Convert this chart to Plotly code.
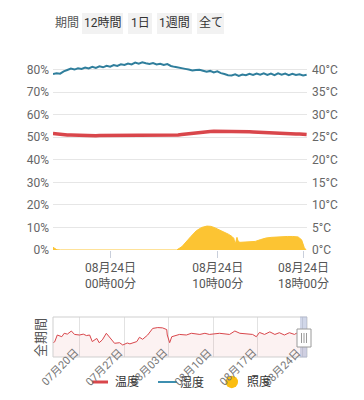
import pandas as pd
import plotly.graph_objects as go

W, H = 364, 400

# ---------------- data ----------------
main_times = pd.date_range("2024-08-23 18:38", periods=72, freq="20min")
humidity = [78.0, 78.4, 78.2, 79.2, 79.8, 80.4, 80.0, 80.6, 80.3, 80.9, 80.5, 81.2,
            80.7, 81.4, 81.0, 81.7, 81.3, 82.0, 81.6, 82.3, 82.0, 82.7, 82.3, 83.1,
            82.6, 83.2, 82.8, 82.5, 82.9, 82.3, 82.6, 82.0, 82.4, 81.6, 81.2, 80.8,
            80.4, 80.3, 80.0, 79.6, 79.8, 79.9, 79.5, 79.0, 79.4, 78.7, 79.2, 78.4,
            78.0, 77.5, 77.4, 77.9, 77.2, 77.8, 77.5, 78.1, 77.6, 78.2, 77.7, 78.3,
            77.6, 78.2, 77.5, 78.3, 77.7, 78.2, 77.5, 78.1, 77.6, 77.9, 77.4, 77.7]
temperature = [25.8, 25.7, 25.6, 25.55, 25.5, 25.5, 25.45, 25.45, 25.4, 25.45, 25.4, 25.4,
               25.35, 25.4, 25.4, 25.35, 25.4, 25.4, 25.35, 25.4, 25.45, 25.4, 25.4, 25.45,
               25.4, 25.4, 25.35, 25.4, 25.4, 25.45, 25.4, 25.4, 25.45, 25.4, 25.45, 25.5,
               25.6, 25.7, 25.8, 25.9, 26.0, 26.1, 26.15, 26.2, 26.25, 26.3, 26.3, 26.3,
               26.3, 26.35, 26.3, 26.3, 26.25, 26.25, 26.2, 26.2, 26.15, 26.1, 26.05, 26.0,
               26.0, 25.95, 25.9, 25.9, 25.85, 25.8, 25.8, 25.75, 25.7, 25.7, 25.65, 25.6]

illum_times = ["2024-08-23 18:38", "2024-08-23 18:50", "2024-08-23 19:00", "2024-08-23 19:20",
               "2024-08-24 06:10", "2024-08-24 06:40", "2024-08-24 07:00", "2024-08-24 07:30",
               "2024-08-24 08:00", "2024-08-24 08:30", "2024-08-24 09:00", "2024-08-24 09:20",
               "2024-08-24 09:40", "2024-08-24 10:00", "2024-08-24 10:30", "2024-08-24 11:00",
               "2024-08-24 11:20", "2024-08-24 11:30", "2024-08-24 11:36", "2024-08-24 11:42",
               "2024-08-24 11:48", "2024-08-24 11:54", "2024-08-24 12:04", "2024-08-24 12:30",
               "2024-08-24 13:00", "2024-08-24 13:30", "2024-08-24 14:00", "2024-08-24 14:30",
               "2024-08-24 15:00", "2024-08-24 15:30", "2024-08-24 16:00", "2024-08-24 16:30",
               "2024-08-24 17:00", "2024-08-24 17:30", "2024-08-24 17:50", "2024-08-24 18:05",
               "2024-08-24 18:15"]
illuminance = [1.2, 0.5, 0.1, 0.0,
               0.0, 1.5, 3.5, 6.0,
               8.5, 10.0, 10.6, 10.5,
               10.0, 9.3, 8.3, 7.0,
               6.0, 5.2, 3.2, 3.8,
               5.6, 4.0, 3.4, 3.5,
               3.6, 3.8, 4.6, 5.3,
               5.6, 5.8, 5.9, 6.0,
               6.0, 5.8, 4.5, 1.0,
               0.0]

overview_times = ["2024-07-15 20:00", "2024-07-16 02:00", "2024-07-16 12:00", "2024-07-17 05:00",
                  "2024-07-17 14:00", "2024-07-18 02:00", "2024-07-18 17:00", "2024-07-19 05:00",
                  "2024-07-20 00:00", "2024-07-20 14:00", "2024-07-21 02:00", "2024-07-21 14:00",
                  "2024-07-22 00:00", "2024-07-22 17:00", "2024-07-23 02:00", "2024-07-23 14:00",
                  "2024-07-24 05:00", "2024-07-24 17:00", "2024-07-25 12:00", "2024-07-26 07:00",
                  "2024-07-26 19:00", "2024-07-27 12:00", "2024-07-27 22:00", "2024-07-29 00:00",
                  "2024-07-29 10:00", "2024-07-29 22:00", "2024-07-30 17:00", "2024-07-31 12:00",
                  "2024-08-01 07:00", "2024-08-02 01:00", "2024-08-02 17:00", "2024-08-02 19:00",
                  "2024-08-03 04:00", "2024-08-03 12:00", "2024-08-04 17:00", "2024-08-05 19:00",
                  "2024-08-06 14:00", "2024-08-07 22:00", "2024-08-08 17:00", "2024-08-09 10:00",
                  "2024-08-10 12:00", "2024-08-11 00:00", "2024-08-12 14:00", "2024-08-13 10:00",
                  "2024-08-14 05:00", "2024-08-15 12:00", "2024-08-16 05:00", "2024-08-16 19:00",
                  "2024-08-17 07:00", "2024-08-18 02:00", "2024-08-18 22:00", "2024-08-19 17:00",
                  "2024-08-20 10:00", "2024-08-21 05:00", "2024-08-22 00:00", "2024-08-22 19:00",
                  "2024-08-23 02:00", "2024-08-23 14:00", "2024-08-24 10:00", "2024-08-24 18:00"]
overview_temp = [23.0, 23.3, 25.7, 25.1, 26.3, 26.0, 27.1, 25.9,
                 25.7, 26.0, 25.5, 25.7, 23.4, 24.5, 23.0, 24.0,
                 26.3, 25.0, 22.8, 23.0, 22.2, 22.9, 22.6, 23.4,
                 24.9, 24.2, 25.7, 28.0, 28.3, 28.2, 27.6, 25.7,
                 23.0, 25.1, 25.9, 25.7, 26.3, 25.9, 26.3, 25.9,
                 26.2, 26.3, 25.9, 27.1, 26.3, 26.2, 25.9, 25.1,
                 26.6, 25.9, 26.8, 25.9, 26.5, 25.7, 26.5, 25.9,
                 26.3, 25.8, 26.1, 25.7]

main_tickvals = ["2024-08-24 00:00", "2024-08-24 10:00", "2024-08-24 18:00"]
main_ticktext = ["08月24日<br>00時00分", "08月24日<br>10時00分", "08月24日<br>18時00分"]
pct_ticks = [0, 10, 20, 30, 40, 50, 60, 70, 80, 90]
pct_labels = ["0%", "10%", "20%", "30%", "40%", "50%", "60%", "70%", "80%", ""]
deg_ticks = [0, 5, 10, 15, 20, 25, 30, 35, 40]
deg_labels = ["0°C", "5°C", "10°C", "15°C", "20°C", "25°C", "30°C", "35°C", "40°C"]
overview_tickvals = ["2024-07-20", "2024-07-27", "2024-08-03", "2024-08-10", "2024-08-17", "2024-08-24"]
overview_ticktext = ["07月20日", "07月27日", "08月03日", "08月10日", "08月17日", "08月24日"]
period_buttons = ["12時間", "1日", "1週間", "全て"]
legend_names = ["温度", "湿度", "照度"]

# ---------------- style ----------------
C_TEMP = "#d9464b"
C_HUM = "#2f7e9c"
C_ILL = "#fcc433"
FONT = "Roboto, 'Noto Sans CJK JP', sans-serif"
LABEL = "#666666"
GRID = "#e6e6e6"


def px(x):
    return x / W


def py(y):
    return 1 - y / H


fig = go.Figure()

fig.add_trace(go.Scatter(x=illum_times, y=illuminance, yaxis="y3", mode="lines",
                         line=dict(color=C_ILL, width=1), fill="tozeroy",
                         fillcolor=C_ILL, name=legend_names[2], showlegend=False))
fig.add_trace(go.Scatter(x=main_times, y=humidity, yaxis="y", mode="lines",
                         line=dict(color=C_HUM, width=2), name=legend_names[1], showlegend=False))
fig.add_trace(go.Scatter(x=main_times, y=temperature, yaxis="y2", mode="lines",
                         line=dict(color=C_TEMP, width=3.5), name=legend_names[0], showlegend=False))
fig.add_trace(go.Scatter(x=overview_times, y=overview_temp, xaxis="x2", yaxis="y4", mode="lines",
                         line=dict(color=C_TEMP, width=1), fill="tozeroy",
                         fillcolor="rgba(217,70,75,0.07)", showlegend=False))

xd = [px(53), px(307)]
fig.update_layout(
    width=W, height=H, autosize=False,
    margin=dict(l=0, r=0, t=0, b=0, autoexpand=False),
    paper_bgcolor="white", plot_bgcolor="white",
    font=dict(family=FONT, size=12, color=LABEL),
    xaxis=dict(domain=xd, anchor="y", type="date", automargin=False,
               range=["2024-08-23 18:38", "2024-08-24 18:20"],
               tickvals=main_tickvals, ticktext=main_ticktext,
               ticks="outside", ticklen=7, tickcolor="#c9cfdb",
               showgrid=False, zeroline=False, showline=False,
               tickfont=dict(size=12, color="#555")),
    yaxis=dict(domain=[py(250), py(47)], range=[0, 90], tickvals=pct_ticks, ticktext=pct_labels,
               automargin=False,
               showgrid=True, gridcolor=GRID, gridwidth=1, zeroline=False,
               ticks="", ticklabelstandoff=3, tickfont=dict(size=12, color=LABEL)),
    yaxis2=dict(overlaying="y", anchor="x", side="right", range=[0, 45], automargin=False,
                tickvals=deg_ticks, ticktext=deg_labels, showgrid=False, zeroline=False,
                ticks="", ticklabelstandoff=4, tickfont=dict(size=12, color=LABEL)),
    yaxis3=dict(overlaying="y", anchor="x", range=[0, 90], visible=False),
    xaxis2=dict(domain=xd, anchor="y4", type="date", automargin=False,
                range=["2024-07-15 19:45", "2024-08-24 18:20"],
                tickvals=overview_tickvals, showticklabels=False,
                showgrid=True, gridcolor="#e2e2e2", zeroline=False,
                ticks="", showline=False),
    yaxis4=dict(domain=[py(357), py(317)], anchor="x2", range=[18, 32], visible=False),
)

shapes = []
annotations = []

# period selector
annotations.append(dict(x=px(53), y=py(23.5), xref="paper", yref="paper", text="期間",
                        showarrow=False, xanchor="left", yanchor="middle",
                        font=dict(size=12, color="#555")))
btn_boxes = [(82, 123), (128, 152), (157, 192), (197, 224)]
for (x0, x1), label in zip(btn_boxes, period_buttons):
    shapes.append(dict(type="rect", xref="paper", yref="paper", x0=px(x0), x1=px(x1),
                       y0=py(34), y1=py(13), fillcolor="#f2f2f2", line=dict(width=0), layer="below"))
    annotations.append(dict(x=px((x0 + x1) / 2), y=py(23.5), xref="paper", yref="paper", text=label,
                            showarrow=False, xanchor="center", yanchor="middle",
                            font=dict(size=12, color="#333")))

# overview labels (rotated, drawn inside like the reference)
tick_px = [80, 124.5, 169, 213.5, 258, 302.5]
for xt, lab in zip(tick_px, overview_ticktext):
    annotations.append(dict(x=px(xt - 20), y=py(367.5), xref="paper", yref="paper", text=lab,
                            showarrow=False, textangle=-45, xanchor="center", yanchor="middle",
                            font=dict(size=11, color="#777")))

# overview box, selection, handle
shapes.append(dict(type="rect", xref="paper", yref="paper", x0=px(53), x1=px(307),
                   y0=py(357), y1=py(317), line=dict(color="#cfcfcf", width=1)))
shapes.append(dict(type="rect", xref="paper", yref="paper", x0=px(300), x1=px(307),
                   y0=py(357.5), y1=py(316.5), fillcolor="rgba(140,155,200,0.4)", line=dict(width=0)))
shapes.append(dict(type="rect", xref="paper", yref="paper", x0=px(297), x1=px(311),
                   y0=py(347), y1=py(329), fillcolor="white", line=dict(color="#9a9a9a", width=1)))
for hx in (301.5, 304, 306.5):
    shapes.append(dict(type="line", xref="paper", yref="paper", x0=px(hx), x1=px(hx),
                       y0=py(343), y1=py(333), line=dict(color="#9a9a9a", width=1)))
annotations.append(dict(x=px(40), y=py(338), xref="paper", yref="paper", text="全期間",
                        showarrow=False, textangle=-90, xanchor="center", yanchor="middle",
                        font=dict(size=13, color="#555")))

# legend
ly = py(382)
shapes.append(dict(type="line", xref="paper", yref="paper", x0=px(92), x1=px(108), y0=ly, y1=ly,
                   line=dict(color=C_TEMP, width=3)))
shapes.append(dict(type="line", xref="paper", yref="paper", x0=px(158), x1=px(177), y0=ly, y1=ly,
                   line=dict(color="#3d8fb0", width=2)))
shapes.append(dict(type="circle", xref="paper", yref="paper", x0=px(225.5), x1=px(238),
                   y0=py(388.2), y1=py(375.7), fillcolor="#fbbd10", line=dict(width=0)))
for xc, name in zip((126.5, 192, 258.5), legend_names):
    annotations.append(dict(x=px(xc), y=ly, xref="paper", yref="paper", text=name,
                            showarrow=False, xanchor="center", yanchor="middle",
                            font=dict(size=12, color="#333")))

fig.update_layout(shapes=shapes, annotations=annotations)
fig.write_html("out.html", config={"displayModeBar": False},
               post_script="document.body.style.margin='0';document.body.style.padding='0';")
